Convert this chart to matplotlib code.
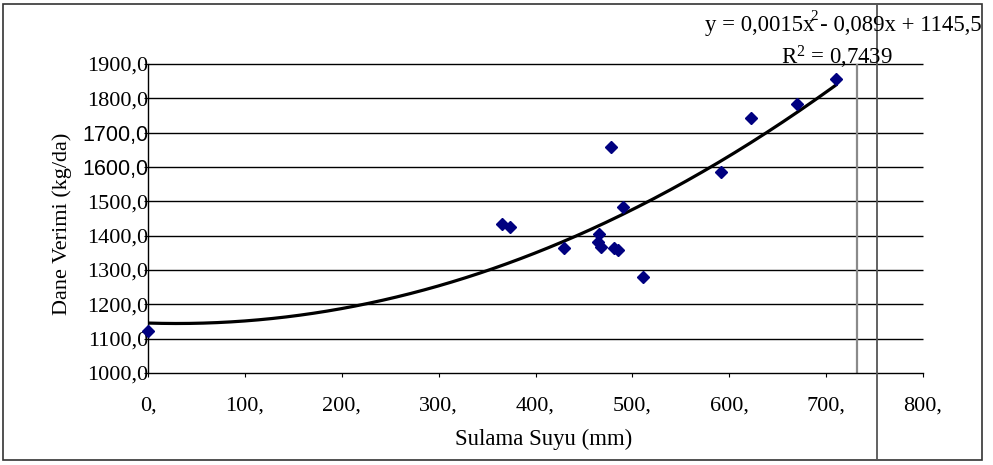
import matplotlib
matplotlib.use('Agg')
import matplotlib.pyplot as plt
from matplotlib.lines import Line2D
from matplotlib.patches import Rectangle
import numpy as np

# Dane
sulama_suyu = [0, 365, 374, 429, 465, 466, 468, 478, 481, 485, 490, 511, 591, 622, 670, 710]
dane_verimi = [1122, 1434, 1425, 1363, 1381, 1405, 1368, 1659, 1364, 1357, 1483, 1281, 1585, 1742, 1783, 1855]

# Wspolczynniki linii trendu (z opisu na wykresie)
trend_coef = [0.0015, -0.089, 1145.5]
trend_x_max = 710

x_ticks = [0, 100, 200, 300, 400, 500, 600, 700, 800]
x_tick_labels = ['0,', '100,', '200,', '300,', '400,', '500,', '600,', '700,', '800,']
y_ticks = [1000, 1100, 1200, 1300, 1400, 1500, 1600, 1700, 1800, 1900]
y_tick_labels = ['1000,0', '1100,0', '1200,0', '1300,0', '1400,0',
                 '1500,0', '1600,0', '1700,0', '1800,0', '1900,0']
sans_labels = ['1600,0', '1700,0']

SERIF = 'Liberation Serif'
SANS = 'Liberation Sans'
W, H = 993, 465

plt.rcParams['mathtext.fontset'] = 'custom'
plt.rcParams['mathtext.rm'] = SERIF
plt.rcParams['mathtext.it'] = SERIF + ':italic'

fig = plt.figure(figsize=(W / 100, H / 100), dpi=100)
ax = fig.add_axes([148 / W, (H - 373) / H, (923 - 148) / W, (373 - 64) / H])

ax.set_xlim(0, 800)
ax.set_ylim(1000, 1900)

# Siatka pozioma
ax.hlines(y_ticks[1:], 0, 800, colors='black', lw=1, clip_on=False, zorder=1)
ax.axvline(732, color='#8a8a8a', lw=1.6, zorder=1)

# Linia trendu
xt = np.linspace(0, trend_x_max, 300)
ax.plot(xt, np.polyval(trend_coef, xt), color='black', lw=2.3, zorder=2)

# Punkty
ax.plot(sulama_suyu, dane_verimi, linestyle='none', marker='D', ms=6.5,
        color='#000080', clip_on=False, zorder=3)

for s in ['top', 'right']:
    ax.spines[s].set_visible(False)
for s in ['left', 'bottom']:
    ax.spines[s].set_color('black')
    ax.spines[s].set_linewidth(1)

ax.set_xticks(x_ticks)
ax.set_xticklabels(x_tick_labels, fontsize=16, family=SERIF)
ax.set_yticks(y_ticks)
ax.set_yticklabels(y_tick_labels, fontsize=16, family=SERIF)
for lbl in ax.get_yticklabels():
    if lbl.get_text() in sans_labels:
        lbl.set_family(SANS)
        lbl.set_fontsize(15.5)
for lbl in ax.get_xticklabels():
    lbl.set_x(lbl.get_position()[0])
ax.tick_params(axis='y', direction='out', length=3, pad=-3, color='black')
ax.tick_params(axis='x', direction='out', length=3, pad=14, color='black')

fig.text(62 / W, 1 - 224 / H, 'Dane Verimi (kg/da)', rotation=90,
         ha='center', va='center', fontsize=16, family=SERIF)
fig.text(544 / W, 1 - 439 / H, 'Sulama Suyu (mm)',
         ha='center', va='center', fontsize=16.4, family=SERIF)

# Rownanie trendu
fig.text(982 / W, 1 - 25 / H, 'y = 0,0015x - 0,089x + 1145,5',
         ha='right', va='center', fontsize=16.4, family=SERIF)
fig.text(814 / W, 1 - 16 / H, '2', ha='center', va='center',
         fontsize=11, family=SERIF)
fig.text(893 / W, 1 - 57 / H, r'R$^\mathrm{2}$ = 0,7439', ha='right', va='center',
         fontsize=16.4, family=SERIF)

# Ramka i pionowa linia
fig.add_artist(Rectangle((2.5 / W, 1 - 460 / H), (982 - 2.5) / W, (460 - 4.5) / H,
                         transform=fig.transFigure, fill=False,
                         edgecolor='#333333', lw=1.2))
fig.add_artist(Line2D([877 / W, 877 / W], [1 - 460 / H, 1 - 4.5 / H],
                      transform=fig.transFigure, color='#555555', lw=1.3))

fig.savefig('out.png', dpi=100)
